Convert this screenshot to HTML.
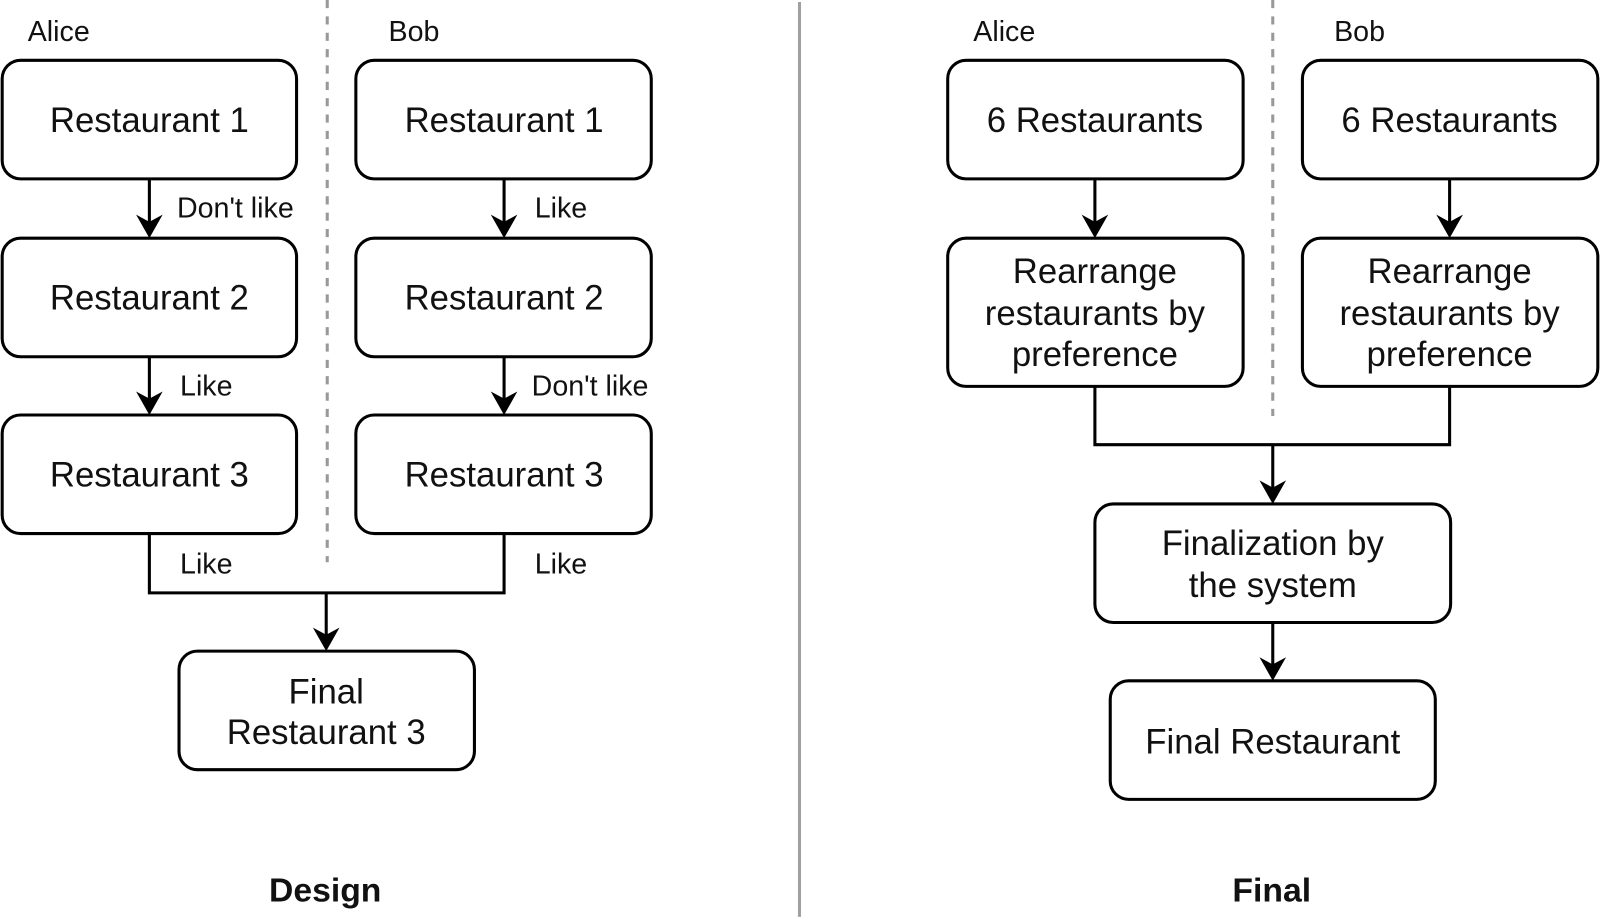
<!DOCTYPE html>
<html><head><meta charset="utf-8"><style>
html,body{margin:0;padding:0;background:#fff;width:1600px;height:921px;overflow:hidden}
svg{display:block}
text{font-family:"Liberation Sans",Arial,sans-serif;fill:#111}
</style></head><body>
<svg width="1600" height="921" viewBox="0 0 1565 901" xmlns="http://www.w3.org/2000/svg">
<g stroke="#999" stroke-width="3" fill="none">
<line x1="320" y1="0" x2="320" y2="550" stroke-dasharray="8,8"/>
<line x1="1245" y1="0" x2="1245" y2="407" stroke-dasharray="8,8"/>
<line x1="782" y1="2" x2="782" y2="897" stroke="#a0a0a0"/>
</g>
<g stroke="#000" stroke-width="3" fill="#fff">
<rect x="2" y="59" width="288" height="116" rx="18"/>
<rect x="2" y="233" width="288" height="116" rx="18"/>
<rect x="2" y="406" width="288" height="116" rx="18"/>
<rect x="348" y="59" width="289" height="116" rx="18"/>
<rect x="348" y="233" width="289" height="116" rx="18"/>
<rect x="348" y="406" width="289" height="116" rx="18"/>
<rect x="175" y="637" width="289" height="116" rx="18"/>
<rect x="927" y="59" width="289" height="116" rx="18"/>
<rect x="1274" y="59" width="289" height="116" rx="18"/>
<rect x="927" y="233" width="289" height="145" rx="18"/>
<rect x="1274" y="233" width="289" height="145" rx="18"/>
<rect x="1071" y="493" width="348" height="116" rx="18"/>
<rect x="1086" y="666" width="318" height="116" rx="18"/>
</g>
<g stroke="#000" stroke-width="3" fill="none">
<line x1="146" y1="175" x2="146" y2="220"/>
<line x1="146" y1="349" x2="146" y2="394"/>
<line x1="493" y1="175" x2="493" y2="220"/>
<line x1="493" y1="349" x2="493" y2="394"/>
<polyline points="146,522 146,580 493,580 493,522"/>
<line x1="319" y1="580" x2="319" y2="624"/>
<line x1="1071" y1="175" x2="1071" y2="220"/>
<line x1="1418" y1="175" x2="1418" y2="220"/>
<polyline points="1071,378 1071,435 1418,435 1418,378"/>
<line x1="1245" y1="435" x2="1245" y2="480"/>
<line x1="1245" y1="609" x2="1245" y2="653"/>
</g>
<g fill="#000">
<path d="M146 233 L133 210 L146 217 L159 210 Z"/>
<path d="M146 406 L133 383 L146 390 L159 383 Z"/>
<path d="M493 233 L480 210 L493 217 L506 210 Z"/>
<path d="M493 406 L480 383 L493 390 L506 383 Z"/>
<path d="M319 637 L306 614 L319 621 L332 614 Z"/>
<path d="M1071 233 L1058 210 L1071 217 L1084 210 Z"/>
<path d="M1418 233 L1405 210 L1418 217 L1431 210 Z"/>
<path d="M1245 493 L1232 470 L1245 477 L1258 470 Z"/>
<path d="M1245 666 L1232 643 L1245 650 L1258 643 Z"/>
</g>
<g font-size="28">
<text x="27" y="40">Alice</text>
<text x="380" y="40">Bob</text>
<text x="952" y="40">Alice</text>
<text x="1305" y="40">Bob</text>
<text x="173" y="213">Don't like</text>
<text x="176" y="387">Like</text>
<text x="176" y="561">Like</text>
<text x="523" y="213">Like</text>
<text x="520" y="387">Don't like</text>
<text x="523" y="561">Like</text>
</g>
<g font-size="34" text-anchor="middle">
<text x="146" y="129">Restaurant 1</text>
<text x="146" y="303">Restaurant 2</text>
<text x="146" y="476">Restaurant 3</text>
<text x="493" y="129">Restaurant 1</text>
<text x="493" y="303">Restaurant 2</text>
<text x="493" y="476">Restaurant 3</text>
<text x="319" y="688">Final</text>
<text x="319" y="728">Restaurant 3</text>
<text x="1071" y="129">6 Restaurants</text>
<text x="1418" y="129">6 Restaurants</text>
<text x="1071" y="277">Rearrange</text>
<text x="1071" y="318">restaurants by</text>
<text x="1071" y="358">preference</text>
<text x="1418" y="277">Rearrange</text>
<text x="1418" y="318">restaurants by</text>
<text x="1418" y="358">preference</text>
<text x="1245" y="543">Finalization by</text>
<text x="1245" y="584">the system</text>
<text x="1245" y="737">Final Restaurant</text>
</g>
<g font-size="33" font-weight="bold" text-anchor="middle">
<text x="318" y="882">Design</text>
<text x="1244" y="882">Final</text>
</g>
</svg>
</body></html>
